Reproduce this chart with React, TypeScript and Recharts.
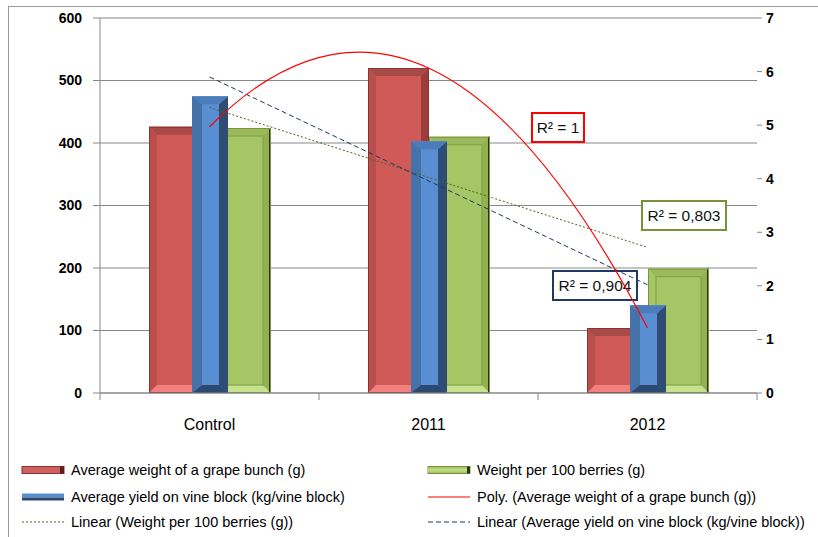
import React from 'react';
import {
  ComposedChart,
  Bar,
  Line,
  XAxis,
  YAxis,
  CartesianGrid,
  Legend,
  Customized,
} from 'recharts';

// ---------- data ----------
const categories = ['Control', '2011', '2012'];
const bunchWeight = [426, 520, 104]; // Average weight of a grape bunch (g) - left axis
const berryWeight = [424, 410, 199]; // Weight per 100 berries (g) - left axis
const vineYield = [5.54, 4.7, 1.64]; // Average yield on vine block (kg/vine block) - right axis
const berryTrend = [457, 345, 233]; // Linear trend of weight per 100 berries, as drawn
const yieldTrend = [5.9, 3.96, 2.02]; // Linear trend of yield, as drawn
const leftTicks = [0, 100, 200, 300, 400, 500, 600];
const rightTicks = [0, 1, 2, 3, 4, 5, 6, 7];
const r2Texts = ['R² = 1', 'R² = 0,803', 'R² = 0,904'];
const legendLabels = [
  'Average weight of a grape bunch (g)',
  'Weight per 100 berries (g)',
  'Average yield on vine block (kg/vine block)',
  'Poly. (Average weight of a grape bunch (g))',
  'Linear (Weight per 100 berries (g))',
  'Linear (Average yield on vine block (kg/vine block))',
];

const data = categories.map((name, i) => ({
  name,
  bunch: bunchWeight[i],
  berry: berryWeight[i],
  yld: vineYield[i],
  poly: bunchWeight[i],
  berryTrend: berryTrend[i],
  yieldTrend: yieldTrend[i],
}));

const FONT = '"Liberation Sans", Arial, sans-serif';
const GRID = '#878787';

// Quadratic (order-2 polynomial) curve through the three points
function polyCurve(context: any) {
  let pts: number[][] = [];
  return {
    areaStart() {},
    areaEnd() {},
    lineStart() {
      pts = [];
    },
    lineEnd() {
      if (pts.length === 3) {
        const [p0, p1, p2] = pts;
        const cx = 2 * p1[0] - (p0[0] + p2[0]) / 2;
        const cy = 2 * p1[1] - (p0[1] + p2[1]) / 2;
        context.moveTo(p0[0], p0[1]);
        context.quadraticCurveTo(cx, cy, p2[0], p2[1]);
      } else {
        pts.forEach((p, i) => (i ? context.lineTo(p[0], p[1]) : context.moveTo(p[0], p[1])));
      }
    },
    point(x: number, y: number) {
      pts.push([x, y]);
    },
  };
}

const RedBar = (props: any) => {
  const { x, y, width: w, height: h } = props;
  if (!(h > 0)) return null;
  const b = Math.min(8, h / 2, w / 2);
  return (
    <g>
      <rect x={x} y={y} width={w} height={h} fill="#cf5a57" />
      <polygon points={`${x},${y} ${x + w},${y} ${x + w - b},${y + b} ${x + b},${y + b}`} fill="#a84a48" />
      <polygon points={`${x},${y} ${x + b},${y + b} ${x + b},${y + h - b} ${x},${y + h}`} fill="#b94e4b" />
      <polygon points={`${x + w},${y} ${x + w},${y + h} ${x + w - b},${y + h - b} ${x + w - b},${y + b}`} fill="#9b3d3b" />
      <polygon points={`${x},${y + h} ${x + b},${y + h - b} ${x + w - b},${y + h - b} ${x + w},${y + h}`} fill="#f2807d" />
      <rect x={x + 0.5} y={y + 0.5} width={w - 1} height={h - 1} fill="none" stroke="#8a3331" strokeWidth={1} />
    </g>
  );
};

const GreenBar = (props: any) => {
  const { x, y, width: w, height: h } = props;
  if (!(h > 0)) return null;
  const b = Math.min(8, h / 2, w / 2);
  return (
    <g>
      <rect x={x} y={y} width={w} height={h} fill="#a6c564" />
      <polygon points={`${x},${y} ${x + w},${y} ${x + w - b},${y + b} ${x + b},${y + b}`} fill="#9bb95b" />
      <polygon points={`${x},${y + h} ${x + b},${y + h - b} ${x + w - b},${y + h - b} ${x + w},${y + h}`} fill="#c7e28e" />
      <polygon points={`${x + w},${y} ${x + w},${y + h} ${x + w - b},${y + h - b} ${x + w - b},${y + b}`} fill="#93b052" />
      <rect x={x + b} y={y + b} width={w - 2 * b} height={h - 2 * b} fill="none" stroke="#86a44a" strokeWidth={1.2} />
      <line x1={x + w - 1} x2={x + w - 1} y1={y} y2={y + h} stroke="#2a3516" strokeWidth={2} />
      <rect x={x + 0.5} y={y + 0.5} width={w - 1} height={h - 1} fill="none" stroke="#7a9440" strokeWidth={1} />
    </g>
  );
};

const BlueBar = (props: any) => {
  const { x, y, width: w, height: h } = props;
  if (!(h > 0)) return null;
  const bl = Math.min(10, w / 3);
  const br = Math.min(9, w / 3);
  const bt = Math.min(8, h / 2);
  const bb = Math.min(8, h / 2);
  return (
    <g>
      <rect x={x} y={y} width={w} height={h} fill="#5a8ed2" />
      <polygon points={`${x},${y} ${x + bl},${y + bt} ${x + bl},${y + h - bb} ${x},${y + h}`} fill="#4672aa" />
      <polygon points={`${x + w},${y} ${x + w},${y + h} ${x + w - br},${y + h - bb} ${x + w - br},${y + bt}`} fill="#2f4d74" />
      <polygon points={`${x},${y} ${x + w},${y} ${x + w - br},${y + bt} ${x + bl},${y + bt}`} fill="#4d7cba" />
      <polygon points={`${x},${y + h} ${x + bl},${y + h - bb} ${x + w - br},${y + h - bb} ${x + w},${y + h}`} fill="#2c4a70" />
    </g>
  );
};

const XTick = (props: any) => {
  const { x, y, payload, index } = props;
  const half = props.width && categories.length ? props.width / categories.length / 2 : 109.5;
  return (
    <g>
      <line x1={x - half} x2={x - half} y1={y} y2={y + 7} stroke={GRID} />
      {index === categories.length - 1 && (
        <line x1={x + half} x2={x + half} y1={y} y2={y + 7} stroke={GRID} />
      )}
      <text x={x} y={y + 37} textAnchor="middle" fontFamily={FONT} fontSize={16} fill="#000">
        {payload.value}
      </text>
    </g>
  );
};

const r2Boxes = [
  { text: r2Texts[0], x: 532, y: 113, w: 52, h: 29, color: '#ff0000' },
  { text: r2Texts[1], x: 642, y: 201, w: 84, h: 29, color: '#77933c' },
  { text: r2Texts[2], x: 553, y: 271, w: 84, h: 29, color: '#1f3864' },
];

const Annotations = () => (
  <g>
    {r2Boxes.map((b) => (
      <g key={b.text}>
        <rect x={b.x} y={b.y} width={b.w} height={b.h} fill="#fff" stroke={b.color} strokeWidth={2} />
        <text
          x={b.x + b.w / 2}
          y={b.y + b.h / 2 + 5.5}
          textAnchor="middle"
          fontFamily={FONT}
          fontSize={15.5}
          fill="#111"
        >
          {b.text}
        </text>
      </g>
    ))}
  </g>
);

const LegendIcon = ({ kind }: { kind: number }) => {
  if (kind === 0)
    return (
      <svg width={44} height={10}>
        <rect x={1} y={1.5} width={42} height={7} fill="#d0605d" stroke="#8a3331" />
        <rect x={39} y={1.5} width={4} height={7} fill="#5a1f1e" />
      </svg>
    );
  if (kind === 1)
    return (
      <svg width={44} height={10}>
        <rect x={1} y={1.5} width={42} height={7} fill="#a6c564" stroke="#7a9440" />
        <rect x={1} y={3.5} width={40} height={3} fill="#c1dc87" />
        <rect x={40} y={1.5} width={3} height={7} fill="#2a3516" />
      </svg>
    );
  if (kind === 2)
    return (
      <svg width={44} height={10}>
        <rect x={1} y={1.5} width={42} height={4} fill="#5a8ed2" />
        <rect x={1} y={5.5} width={42} height={3} fill="#2c4a70" />
      </svg>
    );
  if (kind === 3)
    return (
      <svg width={44} height={10}>
        <line x1={1} x2={43} y1={5} y2={5} stroke="#ff0000" strokeWidth={1.2} />
      </svg>
    );
  if (kind === 4)
    return (
      <svg width={44} height={10}>
        <line x1={1} x2={43} y1={5} y2={5} stroke="#4f6228" strokeWidth={1} strokeDasharray="2 2" />
      </svg>
    );
  return (
    <svg width={44} height={10}>
      <line x1={1} x2={43} y1={5} y2={5} stroke="#1f3864" strokeWidth={1} strokeDasharray="5 3" />
    </svg>
  );
};

const legendPos = [
  { x: 21, y: 470 },
  { x: 427, y: 470 },
  { x: 21, y: 497 },
  { x: 427, y: 497 },
  { x: 21, y: 522 },
  { x: 427, y: 522 },
];

const LegendContent = () => (
  <div style={{ position: 'relative', width: 818, height: 97 }}>
    {legendLabels.map((label, i) => (
      <div
        key={label}
        style={{
          position: 'absolute',
          left: legendPos[i].x,
          top: legendPos[i].y - 440 - 10,
          height: 20,
          display: 'flex',
          alignItems: 'center',
          whiteSpace: 'nowrap',
          fontFamily: FONT,
          fontSize: 14.5,
          color: '#000',
        }}
      >
        <LegendIcon kind={i} />
        <span style={{ marginLeft: 6 }}>{label}</span>
      </div>
    ))}
  </div>
);

export default function App() {
  return (
    <div style={{ position: 'absolute', left: 0, top: 0, width: 818, height: 537, background: '#fff' }}>
      <div style={{ position: 'absolute', left: 8, top: 6, width: 810, height: 1, background: '#9a9a9a' }} />
      <div style={{ position: 'absolute', left: 8, top: 6, width: 1, height: 531, background: '#9a9a9a' }} />
      <div style={{ position: 'absolute', left: 0, top: 0 }}>
        <ComposedChart
          width={818}
          height={537}
          data={data}
          barGap={0}
          margin={{ top: 18, right: 21, bottom: 17, left: 60 }}
        >
          <CartesianGrid vertical={false} stroke={GRID} yAxisId="left" xAxisId="main" />
          <XAxis
            xAxisId="main"
            dataKey="name"
            interval={0}
            height={30}
            tickLine={false}
            tickSize={0}
            tickMargin={0}
            axisLine={{ stroke: GRID }}
            tick={<XTick />}
          />
          <XAxis xAxisId="blue" dataKey="name" hide height={0} />
          <YAxis
            yAxisId="left"
            domain={[0, 600]}
            ticks={leftTicks}
            width={40}
            tickSize={7}
            tickMargin={11}
            axisLine={{ stroke: GRID }}
            tickLine={{ stroke: GRID }}
            tick={{ fontFamily: FONT, fontSize: 14, fontWeight: 'bold', fill: '#000' }}
          />
          <YAxis
            yAxisId="right"
            orientation="right"
            domain={[0, 7]}
            ticks={rightTicks}
            width={40}
            tickSize={5}
            tickMargin={4}
            axisLine={false}
            tickLine={{ stroke: GRID }}
            tick={{ fontFamily: FONT, fontSize: 14, fontWeight: 'bold', fill: '#000' }}
          />
          <Bar xAxisId="main" yAxisId="left" dataKey="bunch" barSize={61} shape={<RedBar />} isAnimationActive={false} />
          <Bar xAxisId="main" yAxisId="left" dataKey="berry" barSize={61} shape={<GreenBar />} isAnimationActive={false} />
          <Bar xAxisId="blue" yAxisId="right" dataKey="yld" barSize={36} shape={<BlueBar />} isAnimationActive={false} />
          <Customized component={Annotations} />
          <Line
            xAxisId="main"
            yAxisId="left"
            dataKey="berryTrend"
            stroke="#4f6228"
            strokeWidth={1}
            strokeDasharray="2 2"
            dot={false}
            activeDot={false}
            isAnimationActive={false}
          />
          <Line
            xAxisId="main"
            yAxisId="right"
            dataKey="yieldTrend"
            stroke="#1f3864"
            strokeWidth={1}
            strokeDasharray="5 3"
            dot={false}
            activeDot={false}
            isAnimationActive={false}
          />
          <Line
            xAxisId="main"
            yAxisId="left"
            dataKey="poly"
            type={polyCurve as any}
            stroke="#ff0000"
            strokeWidth={1.2}
            dot={false}
            activeDot={false}
            isAnimationActive={false}
          />
          <Legend
            verticalAlign="bottom"
            layout="horizontal"
            content={<LegendContent />}
            wrapperStyle={{ left: 0, top: 440, bottom: 'auto', width: 818, height: 97 }}
          />
        </ComposedChart>
      </div>
    </div>
  );
}
